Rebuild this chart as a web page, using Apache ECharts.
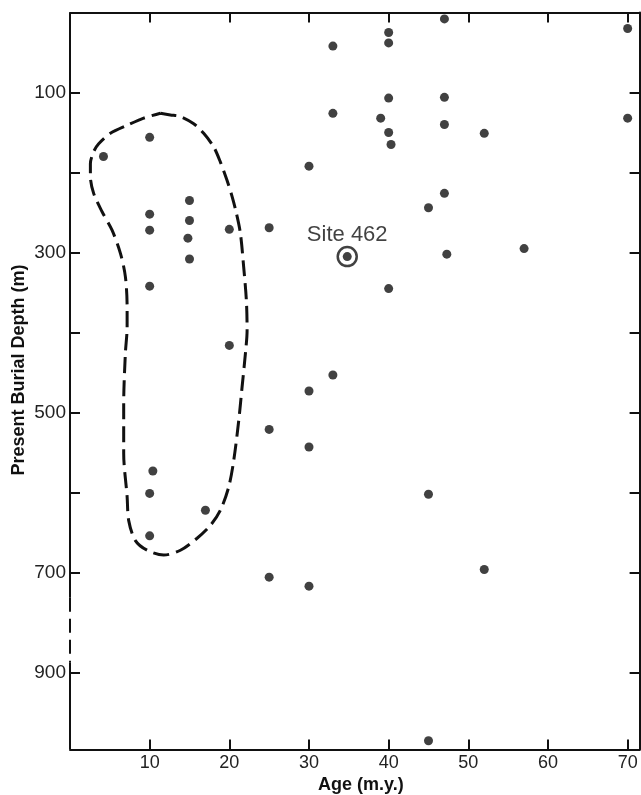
<!DOCTYPE html>
<html>
<head>
<meta charset="utf-8">
<script src="https://cdn.jsdelivr.net/npm/echarts@6/dist/echarts.min.js"></script>
<style>
html,body{margin:0;padding:0;background:#fff;}
#chart{width:641px;height:795px;}
</style>
</head>
<body>
<div id="chart"></div>
<script>
// ---- data (age in m.y., present burial depth in m) ----
const ageTicks = [10, 20, 30, 40, 50, 60, 70];
const depthTicks = [100, 200, 300, 400, 500, 600, 700, 900];
const depthLabels = [100, 300, 500, 700, 900];

const sampleAges = [40, 40, 33, 47, 40, 47, 33, 39, 40, 40.3, 47, 52, 70, 70, 30, 47, 45, 20, 25, 47.3, 57, 40,
  10, 4.2, 10, 10, 15, 15, 14.8, 15, 10, 10.4, 10, 17, 10, 20, 25, 30, 30, 33, 45, 25, 30, 52, 45];
const sampleDepths = [25, 38, 42, 8, 107, 106, 126, 132, 150, 165, 140, 151, 20, 132, 192, 226, 244, 271, 269, 302, 295, 345,
  156, 180, 252, 272, 235, 260, 282, 308, 342, 573, 601, 622, 654, 416, 521, 543, 473, 453, 602, 709, 727, 696, 985];

const siteName = 'Site 462';
const siteAge = 34.8;
const siteDepth = 305;

const envelopeAges = [11.35, 12.6, 13.86, 15.53, 16.78, 18.04, 18.88, 19.72, 20.35, 20.89, 21.39, 21.8, 22.14, 22.23,
  22.02, 21.6, 21.18, 20.55, 19.92, 18.88, 17.62, 15.95, 13.86, 11.76, 9.68, 8.21, 7.37, 7.17, 6.74, 6.74, 6.95,
  7.17, 7.17, 6.95, 6.33, 5.28, 4.03, 2.97, 2.56, 2.56, 2.97, 3.6, 5.07, 7.17, 9.25, 11.35];
const envelopeDepths = [126, 128, 130, 139, 151, 168, 187, 210, 230, 251, 276, 318, 360, 397,
  426, 468, 510, 560, 593, 622, 641, 657, 672, 678, 672, 660, 635, 605, 551, 489, 426,
  393, 368, 330, 301, 272, 249, 226, 205, 189, 174, 164, 151, 141, 132, 126];

// ---- axis break (700-900 m compressed) ----
const BREAK_START = 700, BREAK_END = 900, BREAK_RATIO = 0.625;
const BREAK_LEN = (BREAK_END - BREAK_START) * BREAK_RATIO;
function toAxis(d) {
  if (d <= BREAK_START) return d;
  if (d >= BREAK_END) return d - (BREAK_END - BREAK_START) + BREAK_LEN;
  return BREAK_START + (d - BREAK_START) * BREAK_RATIO;
}
function fromAxis(u) {
  if (u <= BREAK_START) return u;
  if (u >= BREAK_START + BREAK_LEN) return u + (BREAK_END - BREAK_START) - BREAK_LEN;
  return BREAK_START + (u - BREAK_START) / BREAK_RATIO;
}
const DEPTH_MAX = 996;
const AGE_MAX = 71.5;

const samples = sampleAges.map((a, i) => [a, toAxis(sampleDepths[i])]);
const envelope = envelopeAges.map((a, i) => [a, toAxis(envelopeDepths[i])]);

const ink = '#111';
const font = '"Liberation Sans", Arial, Helvetica, sans-serif';
const tickStyle = { show: true, inside: true, length: 10, lineStyle: { color: ink, width: 2 } };
const axisLineStyle = { show: true, onZero: false, lineStyle: { color: ink, width: 2 } };

const chart = echarts.init(document.getElementById('chart'), null, { renderer: 'canvas' });
const option = {
  animation: false,
  backgroundColor: '#fff',
  grid: { left: 70, right: 1.4, top: 12.5, bottom: 45.5, containLabel: false, outerBoundsMode: 'none' },
  xAxis: [
    {
      type: 'value', position: 'bottom', min: 0, max: AGE_MAX,
      name: 'Age (m.y.)', nameLocation: 'middle', nameGap: 27, nameMoveOverlap: false,
      nameTextStyle: { fontFamily: font, fontSize: 18, fontWeight: 'bold', color: ink, padding: [0, 0, 0, 12] },
      axisLine: axisLineStyle,
      axisTick: Object.assign({ customValues: ageTicks }, tickStyle),
      axisLabel: { customValues: ageTicks, fontFamily: font, fontSize: 18, color: '#222', margin: 5 },
      splitLine: { show: false }
    },
    {
      type: 'value', position: 'top', min: 0, max: AGE_MAX,
      axisLine: axisLineStyle,
      axisTick: Object.assign({ customValues: ageTicks }, tickStyle),
      axisLabel: { show: false },
      splitLine: { show: false }
    }
  ],
  yAxis: [
    {
      type: 'value', position: 'left', inverse: true, min: 0, max: toAxis(DEPTH_MAX),
      name: 'Present Burial Depth (m)', nameLocation: 'middle', nameGap: 42, nameRotate: 90, nameMoveOverlap: false,
      nameTextStyle: { fontFamily: font, fontSize: 18, fontWeight: 'bold', color: ink, padding: [0, 0, 0, 22] },
      axisLine: { show: false, onZero: false },
      axisTick: Object.assign({ customValues: depthTicks.map(toAxis) }, tickStyle),
      axisLabel: {
        customValues: depthLabels.map(toAxis), fontFamily: font, fontSize: 19, color: '#222', margin: 4,
        formatter: v => String(Math.round(fromAxis(v)))
      },
      splitLine: { show: false }
    },
    {
      type: 'value', position: 'right', inverse: true, min: 0, max: toAxis(DEPTH_MAX),
      axisLine: axisLineStyle,
      axisTick: Object.assign({ customValues: depthTicks.map(toAxis) }, tickStyle),
      axisLabel: { show: false },
      splitLine: { show: false }
    }
  ],
  series: [
    // left axis line, dashed across the break
    {
      type: 'line', xAxisIndex: 0, yAxisIndex: 0, clip: false, symbol: 'none', silent: true,
      data: [[0, 0], [0, toAxis(750)]], lineStyle: { color: ink, width: 2 }
    },
    {
      type: 'line', xAxisIndex: 0, yAxisIndex: 0, clip: false, symbol: 'none', silent: true,
      data: [[0, toAxis(750)], [0, toAxis(880)]], lineStyle: { color: ink, width: 2, type: [14, 7] }
    },
    {
      type: 'line', xAxisIndex: 0, yAxisIndex: 0, clip: false, symbol: 'none', silent: true,
      data: [[0, toAxis(880)], [0, toAxis(DEPTH_MAX)]], lineStyle: { color: ink, width: 2 }
    },
    // envelope
    {
      type: 'line', xAxisIndex: 0, yAxisIndex: 0, symbol: 'none', smooth: 0.3, silent: true,
      data: envelope, lineStyle: { color: ink, width: 3, type: [16, 7] }
    },
    // samples
    {
      type: 'scatter', xAxisIndex: 0, yAxisIndex: 0, symbol: 'circle', symbolSize: 9,
      data: samples, itemStyle: { color: ink }
    },
    // Site 462
    {
      type: 'scatter', xAxisIndex: 0, yAxisIndex: 0, symbol: 'circle', symbolSize: 19,
      data: [[siteAge, toAxis(siteDepth)]],
      itemStyle: { color: 'rgba(255,255,255,0)', borderColor: ink, borderWidth: 2.5 },
      label: {
        show: true, position: 'top', distance: 0, formatter: siteName,
        fontFamily: font, fontSize: 22, color: ink
      }
    },
    {
      type: 'scatter', xAxisIndex: 0, yAxisIndex: 0, symbol: 'circle', symbolSize: 9,
      data: [[siteAge, toAxis(siteDepth)]], itemStyle: { color: ink }
    }
  ]
};
chart.setOption(option);
</script>
</body>
</html>
